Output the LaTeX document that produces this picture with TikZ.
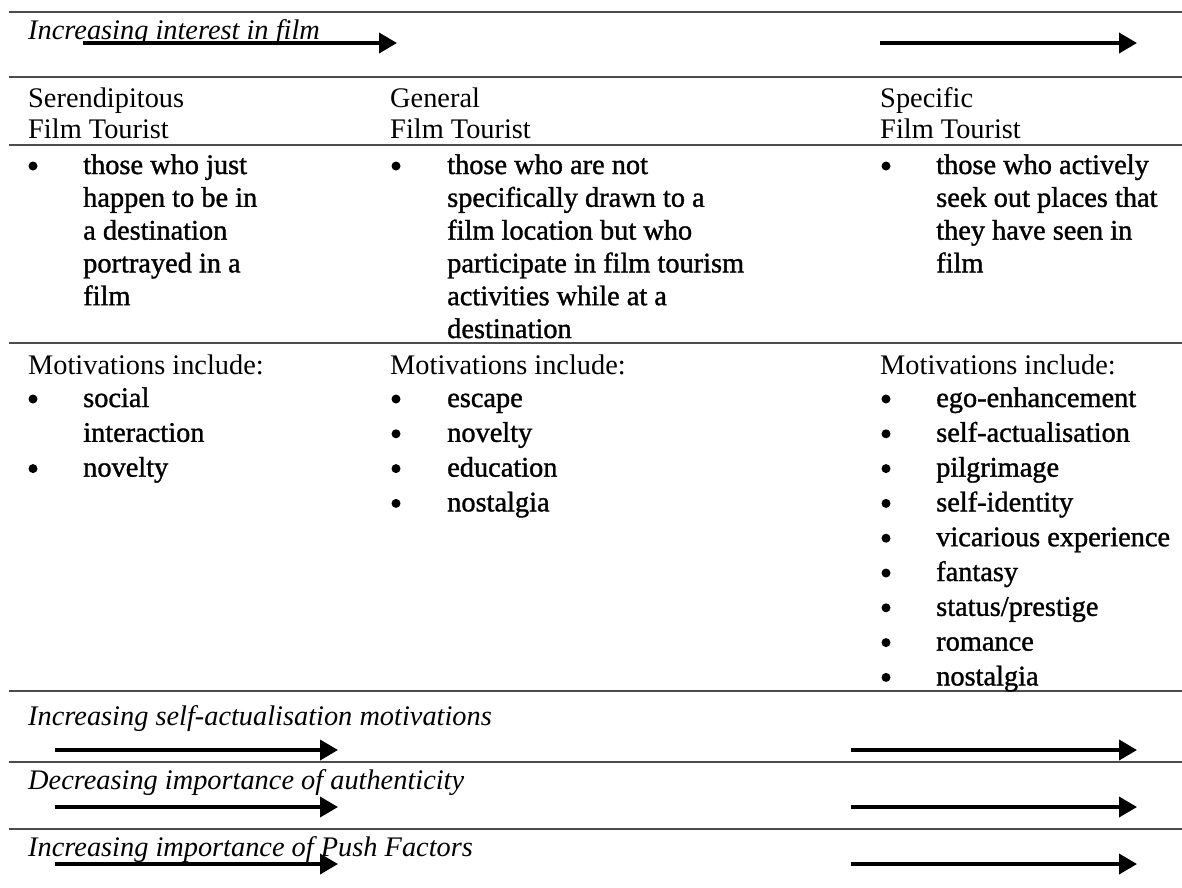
\documentclass[tikz,border=0pt]{standalone}
\usepackage{fontspec}
\setmainfont{Liberation Serif}
\newfontfamily\itemfont{Liberation Serif}[FakeBold=1.2]
\usetikzlibrary{arrows.meta,positioning}

\begin{document}
\begin{tikzpicture}[x=0.03cm,y=-0.03cm]
	\tikzstyle{cell}=[anchor=base west, inner sep=0pt, font=\fontsize{24.2}{29.5}\selectfont]
	\tikzstyle{entry}=[cell, font=\fontsize{24.2}{29.5}\selectfont\itemfont]
	\tikzstyle{trend}=[cell, font=\fontsize{24.2}{29.5}\selectfont\itshape]
	\tikzstyle{dot}=[circle, fill=black, inner sep=0pt, minimum size=0.27cm]
	\tikzstyle{hrule}=[draw=black!70, line width=2.2pt]
	\tikzstyle{trendarrow}=[-{Triangle[length=5.4mm,width=6mm]}, line width=3.2pt]

	\useasboundingbox (0,0) rectangle (1182,887);

	% horizontal rules
	\foreach \y [count=\i] in {12,77,145,343,691,762,829} {
		\coordinate (ll\i) at (9,\y);
		\coordinate (lr\i) at (1182,\y);
		\draw[hrule] (ll\i) -- (lr\i);
	}

	% trend rows
	\node (t1) [trend] at (28,39) {Increasing interest in film};
	\node (t2) [trend] at (28,725) {Increasing self-actualisation motivations};
	\node (t3) [trend] at (28,789) {Decreasing importance of authenticity};
	\node (t4) [trend] at (28,856) {Increasing importance of Push Factors};

	\foreach \n/\y/\a/\b/\c in {1/43/83/397/880, 2/750/55/338/851, 3/807/55/338/851, 4/864/55/338/851} {
		\coordinate (ls\n) at (\a,\y);
		\coordinate (le\n) at (\b,\y);
		\coordinate (rs\n) at (\c,\y);
		\coordinate (re\n) at (1137,\y);
		\draw[trendarrow] (ls\n) -- (le\n);
		\draw[trendarrow] (rs\n) -- (re\n);
	}

	% column headers
	\node (sh1) [cell] at (28,107) {Serendipitous};
	\node (sh2) [cell] at (28,138) {Film Tourist};
	\node (gh1) [cell] at (390,107) {General};
	\node (gh2) [cell] at (390,138) {Film Tourist};
	\node (ph1) [cell] at (880,107) {Specific};
	\node (ph2) [cell] at (880,138) {Film Tourist};

	% who they are
	\node (sdb) [dot] at (33,166) {};
	\node (gdb) [dot] at (396,166) {};
	\node (pdb) [dot] at (886,166) {};
	\foreach \t [count=\i] in {those who just, happen to be in, a destination, portrayed in a, film}
		\node (sd\i) [entry] at (83,{174+32.8*(\i-1)}) {\t};
	\foreach \t [count=\i] in {those who are not, specifically drawn to a, film location but who, participate in film tourism, activities while at a, destination}
		\node (gd\i) [entry] at (447,{174+32.8*(\i-1)}) {\t};
	\foreach \t [count=\i] in {those who actively, seek out places that, they have seen in, film}
		\node (pd\i) [entry] at (936,{174+32.8*(\i-1)}) {\t};

	% motivations
	\node (smh) [cell] at (28,374) {Motivations include:};
	\node (gmh) [cell] at (390,374) {Motivations include:};
	\node (pmh) [cell] at (880,374) {Motivations include:};

	\foreach \t [count=\i] in {social, interaction, novelty}
		\node (sm\i) [entry] at (83,{407+34.8*(\i-1)}) {\t};
	\node (smb1) [dot] at (33,399) {};
	\node (smb3) [dot] at (33,468.6) {};

	\foreach \t [count=\i] in {escape, novelty, education, nostalgia} {
		\node (gmb\i) [dot] at (396,{399+34.8*(\i-1)}) {};
		\node (gm\i) [entry] at (447,{407+34.8*(\i-1)}) {\t};
	}

	\foreach \t [count=\i] in {ego-enhancement, self-actualisation, pilgrimage, self-identity, vicarious experience, fantasy, status/prestige, romance, nostalgia} {
		\node (pmb\i) [dot] at (886,{399+34.8*(\i-1)}) {};
		\node (pm\i) [entry] at (936,{407+34.8*(\i-1)}) {\t};
	}
\end{tikzpicture}
\end{document}
